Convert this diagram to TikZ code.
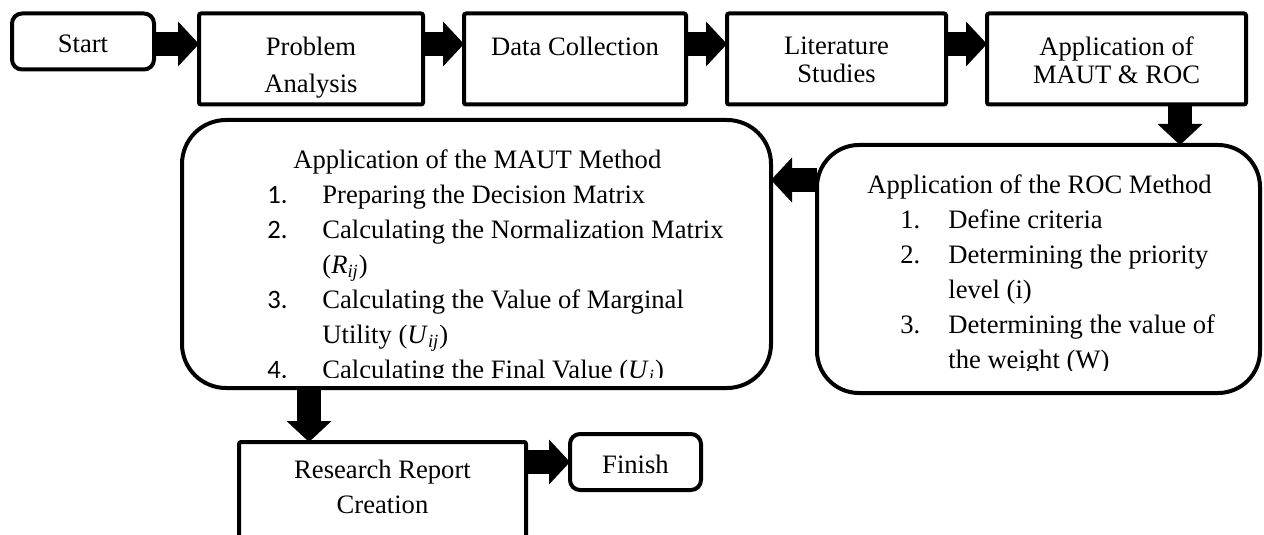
\documentclass[tikz,border=0pt]{standalone}
\usepackage{fontspec}
\setmainfont{Liberation Serif}
\setsansfont{Carlito}
\usepackage{tikz}
\usetikzlibrary{arrows.meta,positioning,calc}

% numbered lines inside the two method boxes
\newcommand{\mautNum}[1]{\makebox[27.5pt][l]{\sffamily #1}}
\newcommand{\rocNum}[1]{\hspace*{16.5pt}\makebox[24pt][l]{#1}}
\newcommand{\sub}[2]{(\textit{#1}\textsubscript{\textit{#2}})}

\tikzset{
  stepBox/.style={
    rectangle,
    rounded corners=1pt,
    draw=black,
    line width=2pt,
    inner sep=0pt,
    outer sep=0pt,
    minimum height=45.5pt
  },
  terminal/.style={
    rectangle,
    rounded corners=5pt,
    draw=black,
    line width=2pt,
    inner sep=0pt,
    outer sep=0pt,
    minimum height=28pt,
    text height=11.5pt,
    text depth=0pt,
    font=\fontsize{13.3}{16}\selectfont
  },
  methodBox/.style={
    rectangle,
    rounded corners=22pt,
    draw=black,
    line width=2pt,
    inner sep=0pt,
    outer sep=0pt
  },
  stepText/.style={
    anchor=north,
    inner sep=0pt,
    align=center,
    font=\fontsize{13.3}{18.5}\selectfont
  },
  methodText/.style={
    anchor=north west,
    inner sep=0pt,
    align=left,
    font=\fontsize{13.3}{17.5}\selectfont
  },
  blockArrow/.style={
    line width=12pt,
    -{Triangle[length=10.5pt,width=22.5pt,line width=0pt]}
  }
}

\begin{document}
\begin{tikzpicture}[x=0.5pt,y=-0.5pt]
  \clip (0,0) rectangle (1264,535);
  \coordinate (flow) at (0,44);

  % top row
  \node[terminal,minimum width=71pt] (start) at (83,41.5) {Start};
  \node[stepBox,minimum width=112pt,right=22.5pt of start.north east,anchor=north west] (analysis) {};
  \node[stepBox,minimum width=111pt,right=20.5pt of analysis] (collection) {};
  \node[stepBox,minimum width=109.5pt,right=20.5pt of collection] (literature) {};
  \node[stepBox,minimum width=129.5pt,right=20.5pt of literature] (application) {};

  \node[stepText] (analysisText) at ($(analysis.north)+(0,23)$) {Problem\\Analysis};
  \node[stepText] (collectionText) at ($(collection.north)+(0,23)$) {Data Collection};
  \node[stepText,font=\fontsize{13.3}{14}\selectfont] (literatureText) at ($(literature.north)+(0,23)$) {Literature\\Studies};
  \node[stepText,font=\fontsize{13.3}{14}\selectfont] (applicationText) at ($(application.north)+(0,23)$) {Application of\\MAUT \& ROC};

  % method boxes
  \node[methodBox,rounded corners=21pt,minimum width=221.5pt,minimum height=124pt] (roc) at (1038.5,269) {};
  \node[methodBox,minimum width=294.5pt,minimum height=134pt] (maut) at (476.5,254) {};

  \begin{scope}
    \clip (maut.north west) rectangle ($(maut.south east)+(0,-11)$);
    \node[methodText] (mautSteps) at ($(maut.north west)+(85,29)$) {%
      \hspace*{13pt}Application of the MAUT Method\\
      \mautNum{1.}Preparing the Decision Matrix\\
      \mautNum{2.}Calculating the Normalization Matrix\\
      \mautNum{}\sub{R}{ij}\\
      \mautNum{3.}Calculating the Value of Marginal\\
      \mautNum{}Utility \sub{U}{ij}\\
      \mautNum{4.}Calculating the Final Value \sub{U}{i}};
  \end{scope}

  \begin{scope}
    \clip (roc.north west) rectangle ($(roc.south east)+(0,-23)$);
    \node[methodText] (rocSteps) at ($(roc.north west)+(50,29)$) {%
      Application of the ROC Method\\
      \rocNum{1.}Define criteria\\
      \rocNum{2.}Determining the priority\\
      \rocNum{}level (i)\\
      \rocNum{3.}Determining the value of\\
      \rocNum{}the weight (W)};
  \end{scope}

  % bottom row
  \node[stepBox,minimum width=143.5pt,minimum height=60pt] (report) at (382.5,502) {};
  \node[stepText,font=\fontsize{13.3}{17.5}\selectfont] (reportText) at ($(report.north)+(0,18)$) {Research Report\\Creation};
  \node[terminal,minimum width=65.5pt] (finish) at (635.5,462) {Finish};

  % connectors
  \draw[blockArrow] (start.east |- flow) -- (analysis.west |- flow);
  \draw[blockArrow] (analysis.east |- flow) -- (collection.west |- flow);
  \draw[blockArrow] (collection.east |- flow) -- (literature.west |- flow);
  \draw[blockArrow] (literature.east |- flow) -- (application.west |- flow);

  \coordinate (toRoc) at ($(application.south west)+(193,0)$);
  \draw[blockArrow] (toRoc) -- (toRoc |- roc.north);
  \coordinate (toMaut) at ($(roc.north west)+(0,35)$);
  \draw[blockArrow] (toMaut) -- (toMaut -| maut.east);
  \coordinate (toReport) at ($(maut.south west)+(127,0)$);
  \draw[blockArrow] (toReport) -- (toReport |- report.north);
  \draw[blockArrow] (report.east |- finish.west) -- (finish.west);
\end{tikzpicture}
\end{document}
